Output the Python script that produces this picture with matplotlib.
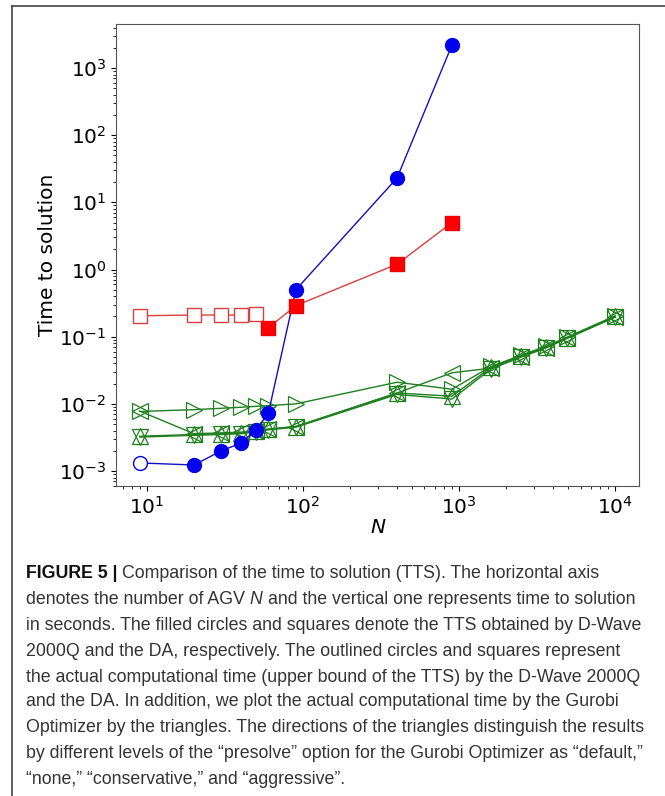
import matplotlib
matplotlib.use('Agg')
import matplotlib.pyplot as plt
from matplotlib.lines import Line2D

W, H = 665, 796

# D-Wave 2000Q (circles): outlined = actual time, filled = TTS
dwave_n = [9, 20, 30, 40, 50, 60, 90, 400, 900]
dwave_t = [0.00132, 0.00123, 0.0020, 0.0026, 0.0041, 0.0073, 0.50, 23.0, 2200.0]
dwave_open = [True, False, False, False, False, False, False, False, False]

# Digital Annealer (squares)
da_n = [9, 20, 30, 40, 50, 60, 90, 400, 900]
da_t = [0.205, 0.21, 0.21, 0.21, 0.217, 0.136, 0.29, 1.2, 5.0]
da_open = [True, True, True, True, True, False, False, False, False]

# Gurobi, presolve levels (triangles)
gurobi_n = [9, 20, 30, 40, 50, 60, 90, 400, 900, 1600, 2500, 3600, 4900, 10000]
gurobi_none = [0.0077, 0.0082, 0.0086, 0.0089, 0.0092, 0.0094, 0.0100, 0.021, 0.0165,
               0.036, 0.053, 0.072, 0.098, 0.205]
gurobi_aggressive = [0.0078, 0.0036, 0.0037, 0.0038, 0.0040, 0.0042, 0.0046, 0.0145, 0.029,
                     0.034, 0.050, 0.068, 0.094, 0.195]
gurobi_conservative = [0.0033, 0.0035, 0.0036, 0.0037, 0.0039, 0.0042, 0.0046, 0.0145, 0.013,
                       0.035, 0.052, 0.070, 0.096, 0.200]
gurobi_default = [0.0032, 0.0034, 0.0035, 0.0036, 0.0038, 0.0041, 0.0045, 0.0138, 0.0118,
                  0.033, 0.050, 0.069, 0.095, 0.198]

caption = [
    [("FIGURE 5 |", "bold"), (" Comparison of the time to solution (TTS). The horizontal axis", "normal")],
    [("denotes the number of AGV ", "normal"), ("N", "italic"),
     (" and the vertical one represents time to solution", "normal")],
    [("in seconds. The filled circles and squares denote the TTS obtained by D-Wave", "normal")],
    [("2000Q and the DA, respectively. The outlined circles and squares represent", "normal")],
    [("the actual computational time (upper bound of the TTS) by the D-Wave 2000Q", "normal")],
    [("and the DA. In addition, we plot the actual computational time by the Gurobi", "normal")],
    [("Optimizer by the triangles. The directions of the triangles distinguish the results", "normal")],
    [("by different levels of the \u201cpresolve\u201d option for the Gurobi Optimizer as \u201cdefault,\u201d", "normal")],
    [("\u201cnone,\u201d \u201cconservative,\u201d and \u201caggressive\u201d.", "normal")],
]


def px(x):
    return x / W


def py(y):
    return 1 - y / H


fig = plt.figure(figsize=(W / 100, H / 100), dpi=100)
ax = fig.add_axes([px(116), py(486), px(639) - px(116), py(24) - py(486)])

# gurobi lines
green = '#1f7f1f'
for vals, m in [(gurobi_none, '>'), (gurobi_aggressive, '<'),
                (gurobi_conservative, '^'), (gurobi_default, 'v')]:
    ax.plot(gurobi_n, vals, color=green, lw=1.0, marker=m, ms=11,
            mfc='none', mec=green, mew=0.9)

# D-Wave
ax.plot(dwave_n, dwave_t, color='#1010c0', lw=1.0)
for n, t, o in zip(dwave_n, dwave_t, dwave_open):
    ax.plot(n, t, 'o', ms=10, mec='#0000ee', mew=1.0,
            mfc='white' if o else '#0000ee')

# DA
ax.plot(da_n, da_t, color='#d84040', lw=1.0)
for n, t, o in zip(da_n, da_t, da_open):
    ax.plot(n, t, 's', ms=10, mec='#d84040' if o else '#ee0000', mew=1.0,
            mfc='white' if o else '#ff0000')

ax.set_xscale('log')
ax.set_yscale('log')
ax.set_xlabel('N', fontsize=14.5, style='italic', labelpad=0)
ax.set_ylabel('Time to solution', fontsize=14.5, labelpad=1)
ax.tick_params(labelsize=14.5)
for s in ax.spines.values():
    s.set_color('#555555')

# frame around the figure panel
fig.add_artist(Line2D([px(12), 1], [py(6), py(6)], color='#444444', lw=1.2))
fig.add_artist(Line2D([px(12), px(12)], [py(6), 0], color='#444444', lw=1.2))

# caption, drawn piece by piece
fig.canvas.draw()
r = fig.canvas.get_renderer()
fam = ['Liberation Sans', 'DejaVu Sans']
fs = 14


def width_of(s, size, **kw):
    t = fig.text(0, 0, s, fontsize=size, family=fam, **kw)
    w = t.get_window_extent(renderer=r).width
    t.remove()
    return w


# fit the widest caption line (line 7) into the reference width
fs = fs * 624 / width_of(caption[6][0][0], fs)
space_w = width_of("a a", fs) - width_of("aa", fs)
line_y = [574, 600, 626, 651, 677, 702, 728, 753, 779]
for y, pieces in zip(line_y, caption):
    x = 26
    for s, st in pieces:
        kw = {}
        col = '#333333'
        if st == 'bold':
            kw['weight'] = 'bold'
            col = '#111111'
        elif st == 'italic':
            kw['style'] = 'italic'
        lead = len(s) - len(s.lstrip(' '))
        trail = len(s) - len(s.rstrip(' '))
        core = s.strip(' ')
        x += lead * space_w
        fig.text(px(x), py(y), core, fontsize=fs, family=fam, color=col,
                 va='center', ha='left', **kw)
        x += width_of(core, fs, **kw) + trail * space_w

fig.savefig('out.png', dpi=100)
